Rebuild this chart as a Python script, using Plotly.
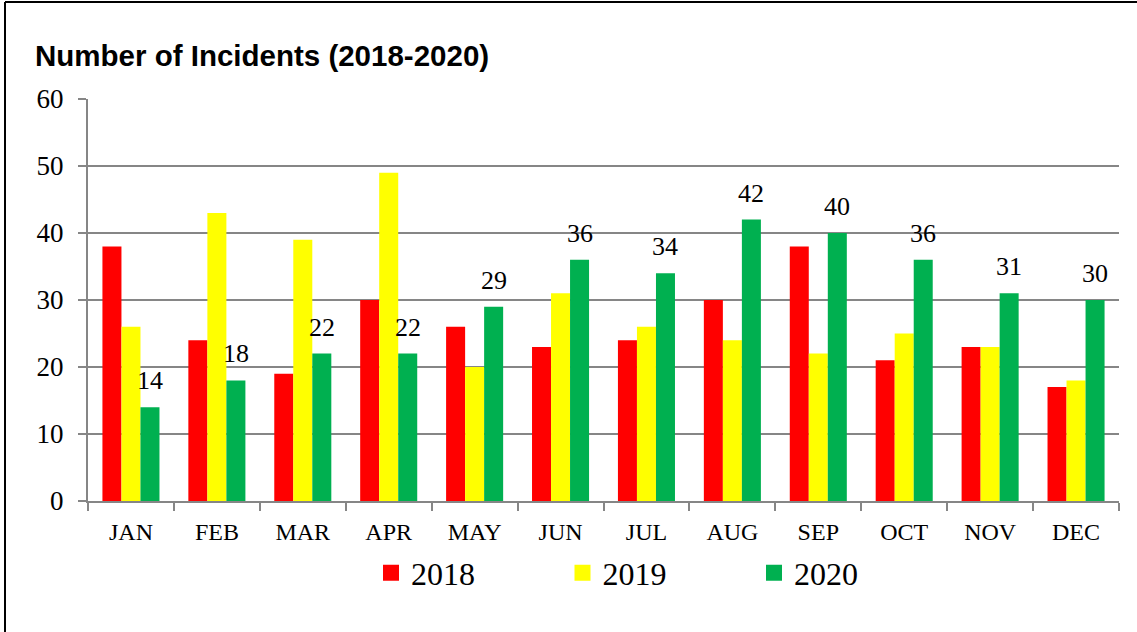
import plotly.graph_objects as go

months = ["JAN", "FEB", "MAR", "APR", "MAY", "JUN", "JUL", "AUG", "SEP", "OCT", "NOV", "DEC"]
v2018 = [38, 24, 19, 30, 26, 23, 24, 30, 38, 21, 23, 17]
v2019 = [26, 43, 39, 49, 20, 31, 26, 24, 22, 25, 23, 18]
v2020 = [14, 18, 22, 22, 29, 36, 34, 42, 40, 36, 31, 30]
series_names = ["2018", "2019", "2020"]
colors = ["#FF0000", "#FFFF00", "#00B050"]
y_ticks = [0, 10, 20, 30, 40, 50, 60]

SERIF = "Liberation Serif"
W, H = 1137, 632
L, R, T, B = 88, 18, 99, 131
PW, PH = W - L - R, H - T - B

fig = go.Figure()
for name, vals, col in zip(series_names, [v2018, v2019, v2020], colors):
    fig.add_trace(go.Bar(x=months, y=vals, name=name, marker=dict(color=col, line=dict(width=0)),
                         showlegend=False, hoverinfo="x+y+name"))
    # legend swatch
    fig.add_trace(go.Scatter(x=[None], y=[None], mode="markers", name=name,
                             marker=dict(symbol="square", size=17, color=col),
                             showlegend=True))

# data labels on the 2020 series
bar_px = PW / len(months) * (1 - 0.336) / 3
for m, v in zip(months, v2020):
    fig.add_annotation(x=m, y=v, text=str(v), showarrow=False, xshift=bar_px,
                       yanchor="bottom", yshift=10,
                       font=dict(family=SERIF, size=26, color="#000000"))

def px_x(p):
    return (p - L) / PW

def px_y(p):
    return (H - B - p) / PH

# title
fig.add_annotation(xref="paper", yref="paper", x=px_x(33), y=px_y(55), xanchor="left", yanchor="middle",
                   text="<b>Number of Incidents (2018-2020)</b>", showarrow=False,
                   font=dict(family="Liberation Sans", size=29.5, color="#000000"))

# outer frame (left and top edges)
fig.add_shape(type="line", xref="paper", yref="paper", x0=px_x(5), x1=px_x(5), y0=px_y(2), y1=px_y(640),
              line=dict(color="#000000", width=2))
fig.add_shape(type="line", xref="paper", yref="paper", x0=px_x(5), x1=px_x(1145), y0=px_y(2), y1=px_y(2),
              line=dict(color="#000000", width=2))

fig.update_layout(
    width=W, height=H,
    margin=dict(l=L, r=R, t=T, b=B, autoexpand=False),
    paper_bgcolor="#FFFFFF", plot_bgcolor="#FFFFFF",
    barmode="group", bargap=0.336, bargroupgap=0,
    font=dict(family=SERIF, color="#000000"),
    legend=dict(orientation="h", x=px_x(371), xanchor="left", y=px_y(573), yanchor="middle",
                entrywidth=146.5, entrywidthmode="pixels", font=dict(family=SERIF, size=32),
                bgcolor="rgba(0,0,0,0)", itemsizing="trace"),
    xaxis=dict(type="category", showline=True, linecolor="#868686", linewidth=2,
               ticks="outside", tickson="boundaries", ticklen=8, tickcolor="#868686", tickwidth=2,
               showgrid=False, tickfont=dict(family=SERIF, size=24, color="#000000"),
               ticklabelstandoff=8),
    yaxis=dict(range=[0, 60], tickvals=y_ticks, showline=True, linecolor="#868686", linewidth=2,
               ticks="outside", ticklen=8, tickcolor="#868686", tickwidth=2,
               showgrid=True, gridcolor="#868686", gridwidth=2, zeroline=False,
               tickfont=dict(family=SERIF, size=27, color="#000000"), ticklabelstandoff=9),
)

fig.write_html("out.html", config={"displayModeBar": False},
               post_script="document.body.style.margin='0px';document.body.style.padding='0px';")
